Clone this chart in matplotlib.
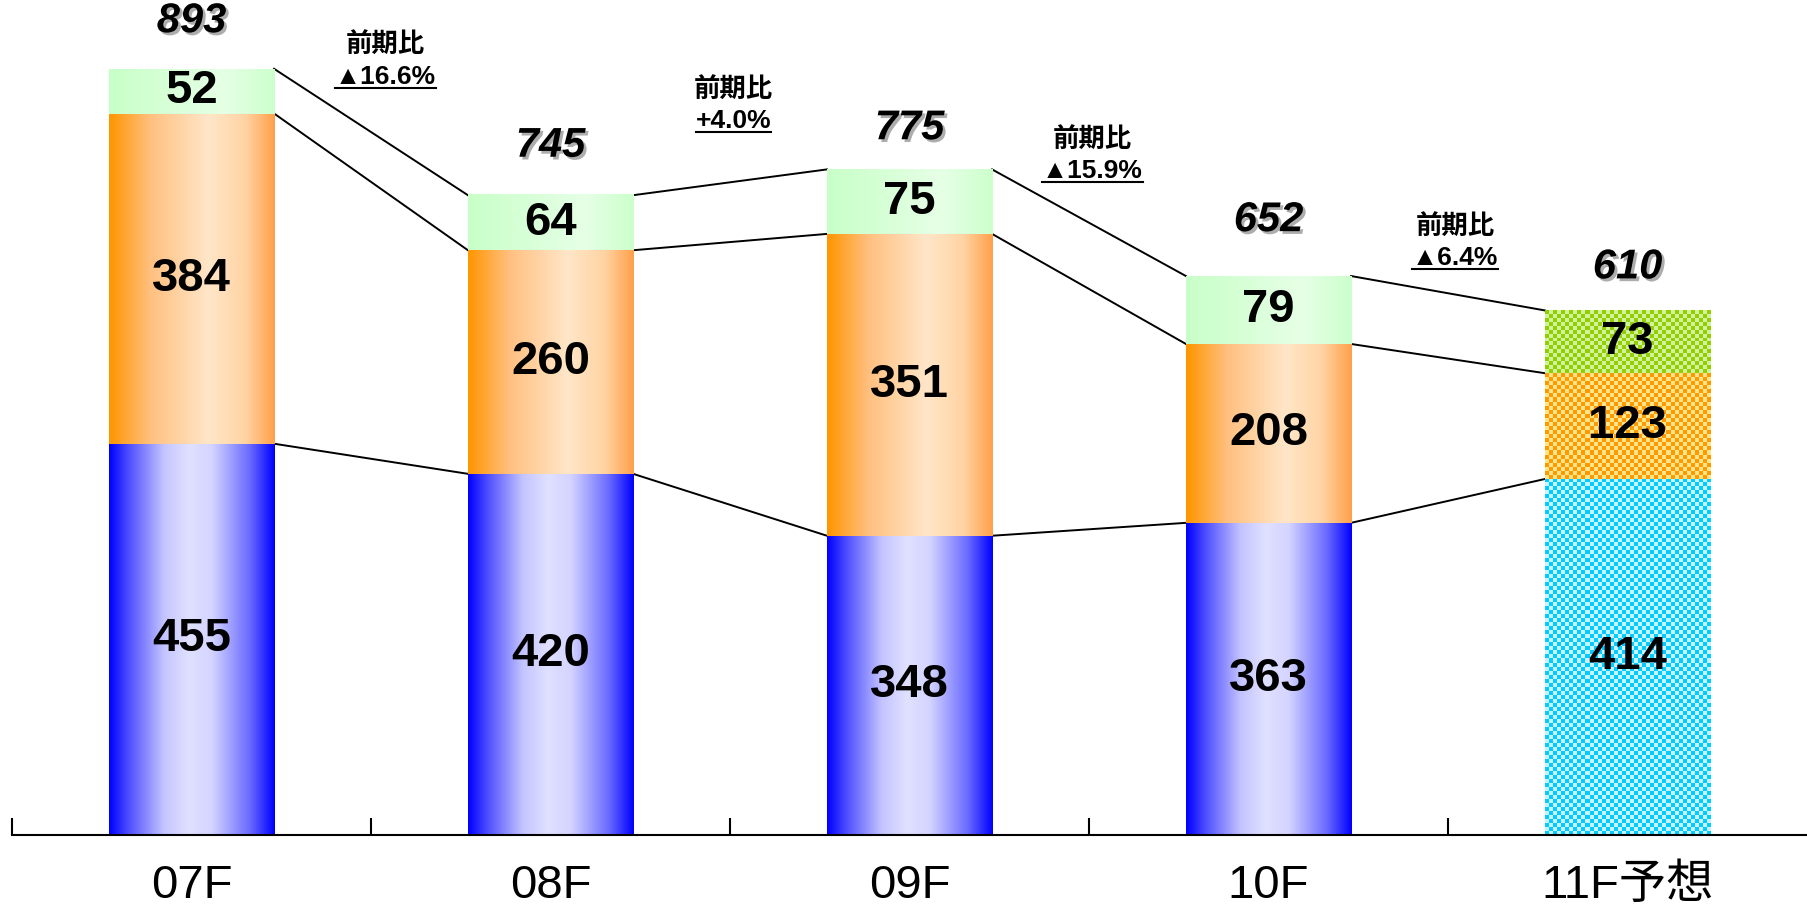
import matplotlib.pyplot as plt
import matplotlib.patheffects as pe
import numpy as np
from matplotlib.colors import LinearSegmentedColormap, to_rgb
from matplotlib.lines import Line2D

plt.rcParams['font.family'] = ['Liberation Sans', 'Noto Sans CJK JP', 'DejaVu Sans']

# data
categories = ['07F', '08F', '09F', '10F', '11F予想']
bottom_vals = [455, 420, 348, 363, 414]
middle_vals = [384, 260, 351, 208, 123]
top_vals = [52, 64, 75, 79, 73]
totals = [893, 745, 775, 652, 610]
change_labels = ['▲16.6%', '+4.0%', '▲15.9%', '▲6.4%']
is_forecast = [False, False, False, False, True]

# layout
change_x = [0.54, 1.51, 2.51, 3.52]
change_y = [882, 830, 772, 671]
total_offset = [33, 35, 29, 39, 31]
bar_w = 0.46
px_per_unit = 0.86
cell_px = 4.0

grad_blue = [(0, '#0000FF'), (0.12, '#5050FF'), (0.33, '#C4C4FF'), (0.48, '#E0E0FF'),
             (0.62, '#D4D4FF'), (0.85, '#6A6AFF'), (1, '#0000FF')]
grad_orange = [(0, '#FF9500'), (0.25, '#FFC080'), (0.6, '#FFE6C8'), (0.82, '#FFD4A4'),
               (1, '#FFA04A')]
grad_green = [(0, '#C8FFC8'), (0.7, '#E6FFE6'), (1, '#CCFFCC')]
chk_blue = ('#00CCFF', '#C8F2FF')
chk_orange = ('#FF9900', '#FFE48A')
chk_green = ('#99CC00', '#CCF5A0')


def gradient(ax, x0, x1, y0, y1, stops):
    cmap = LinearSegmentedColormap.from_list('g', stops)
    img = cmap(np.linspace(0, 1, 256))[np.newaxis, :, :]
    ax.imshow(img, extent=[x0, x1, y0, y1], aspect='auto',
              interpolation='bilinear', zorder=2)


def checker(ax, x0, x1, y0, y1, cols):
    nx = max(1, int(round(bar_w * 359 / cell_px)))
    ny = max(1, int(round((y1 - y0) * px_per_unit / cell_px)))
    ii, jj = np.meshgrid(np.arange(nx), np.arange(ny))
    mask = ((ii + jj) % 2 == 0)[..., None]
    img = np.where(mask, np.array(to_rgb(cols[0])), np.array(to_rgb(cols[1])))
    ax.imshow(img, extent=[x0, x1, y0, y1], aspect='auto',
              interpolation='nearest', zorder=2)


fig = plt.figure(figsize=(18.07, 9.07), dpi=100)
ax = fig.add_axes([12 / 1807, 72 / 907, 1 - 12 / 1807, 835 / 907])

x = np.arange(len(categories))
levels = []
for i in x:
    b = bottom_vals[i]
    m = middle_vals[i]
    t = top_vals[i]
    x0, x1 = i - bar_w / 2, i + bar_w / 2
    segs = [(0, b), (b, b + m), (b + m, b + m + t)]
    if is_forecast[i]:
        for (s0, s1), cols in zip(segs, [chk_blue, chk_orange, chk_green]):
            checker(ax, x0, x1, s0, s1, cols)
    else:
        for (s0, s1), st in zip(segs, [grad_blue, grad_orange, grad_green]):
            gradient(ax, x0, x1, s0, s1, st)
    for (s0, s1), v in zip(segs, [b, m, t]):
        ax.text(i, (s0 + s1) / 2, str(v), ha='center', va='center',
                fontsize=34, fontweight='bold', zorder=4)
    levels.append([b, b + m, b + m + t])
    ax.annotate(str(totals[i]), (i, totals[i]), xytext=(0, total_offset[i]),
                textcoords='offset points', ha='center', va='center',
                fontsize=30, fontweight='bold', fontstyle='italic', zorder=4,
                path_effects=[pe.withSimplePatchShadow(offset=(2, -2),
                                                       shadow_rgbFace='#999999',
                                                       alpha=0.8)])

# connector lines
for i in range(len(categories) - 1):
    for k in range(3):
        ax.plot([i + bar_w / 2, i + 1 - bar_w / 2], [levels[i][k], levels[i + 1][k]],
                color='black', lw=1.4, zorder=1)

# change annotations
pct_texts = []
for i, lab in enumerate(change_labels):
    ax.text(change_x[i], change_y[i] + 37, '前期比', ha='center', va='center',
            fontsize=19, fontweight='bold')
    pct_texts.append(ax.text(change_x[i], change_y[i], lab, ha='center', va='center',
                             fontsize=19, fontweight='bold'))

ax.set_xlim(-0.5, 4.5)
ax.set_ylim(0, 971)
for s in ['top', 'left', 'right']:
    ax.spines[s].set_visible(False)
ax.spines['bottom'].set_linewidth(1.5)
ax.set_yticks([])
ax.set_xticks([-0.5, 0.5, 1.5, 2.5, 3.5])
ax.set_xticklabels([])
ax.tick_params(axis='x', which='major', direction='in', length=12, width=1.5)
ax.set_xticks(x, minor=True)
ax.set_xticklabels(categories, minor=True)
ax.tick_params(axis='x', which='minor', length=0, pad=21, labelsize=34)

# underline the percentage texts
fig.canvas.draw()
renderer = fig.canvas.get_renderer()
inv = fig.transFigure.inverted()
for t in pct_texts:
    bb = t.get_window_extent(renderer)
    (fx0, fy), (fx1, _) = inv.transform([(bb.x0, bb.y0 + 1), (bb.x1, bb.y0 + 1)])
    fig.add_artist(Line2D([fx0, fx1], [fy, fy], transform=fig.transFigure,
                          color='black', lw=1.5))

fig.savefig('out.png', dpi=100)
